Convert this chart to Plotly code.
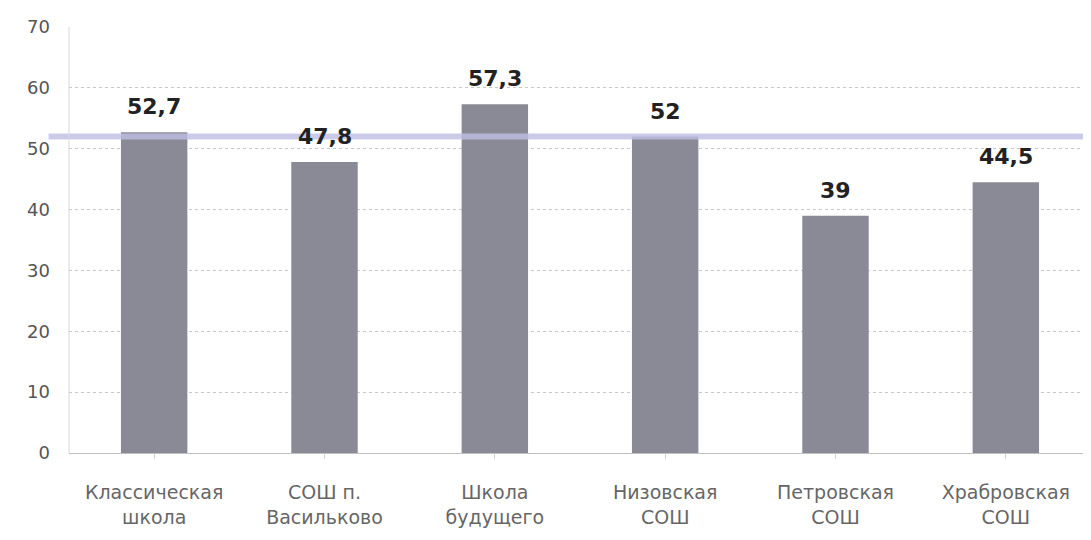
import plotly.graph_objects as go

categories = ["Классическая<br>школа", "СОШ п.<br>Васильково", "Школа<br>будущего",
              "Низовская<br>СОШ", "Петровская<br>СОШ", "Храбровская<br>СОШ"]
values = [52.7, 47.8, 57.3, 52, 39, 44.5]
value_labels = ["52,7", "47,8", "57,3", "52", "39", "44,5"]
reference_level = 52
y_ticks = [0, 10, 20, 30, 40, 50, 60, 70]

fig = go.Figure()
fig.add_trace(go.Bar(
    x=categories, y=values, width=0.39,
    marker=dict(color="#8a8a96", line=dict(width=0)),
    showlegend=False, hoverinfo="skip",
))
for c, v, t in zip(categories, values, value_labels):
    fig.add_annotation(x=c, y=v, text="<b>" + t + "</b>", showarrow=False,
                       yanchor="bottom", yshift=11,
                       font=dict(family="DejaVu Sans", size=22, color="#222222"))

fig.add_shape(type="line", xref="paper", yref="y", x0=-0.02, x1=1,
              y0=reference_level, y1=reference_level,
              line=dict(color="rgba(190,190,228,0.8)", width=6), layer="above")

fig.update_layout(
    width=1083, height=532,
    margin=dict(l=61, r=0, t=19, b=87),
    plot_bgcolor="white", paper_bgcolor="white",
    font=dict(family="DejaVu Sans", color="#555555"),
)
fig.update_yaxes(range=[0, 70], tickvals=y_ticks, showgrid=True,
                 gridcolor="#c8c8c8", griddash="dot", gridwidth=1,
                 zeroline=False, ticks="", tickfont=dict(size=18, color="#555555"),
                 ticklabelstandoff=18, automargin=False,
                 showline=False)
fig.update_xaxes(showline=True, linecolor="#c0c0c0", linewidth=1,
                 ticks="outside", ticklen=5, tickcolor="#d0d0d0",
                 tickfont=dict(size=19, color="#666666"),
                 ticklabelstandoff=17, automargin=False)
fig.add_shape(type="line", xref="paper", yref="paper", x0=0, x1=0, y0=0, y1=1,
              line=dict(color="#d8d8d8", width=1))

fig.write_html("out.html")
